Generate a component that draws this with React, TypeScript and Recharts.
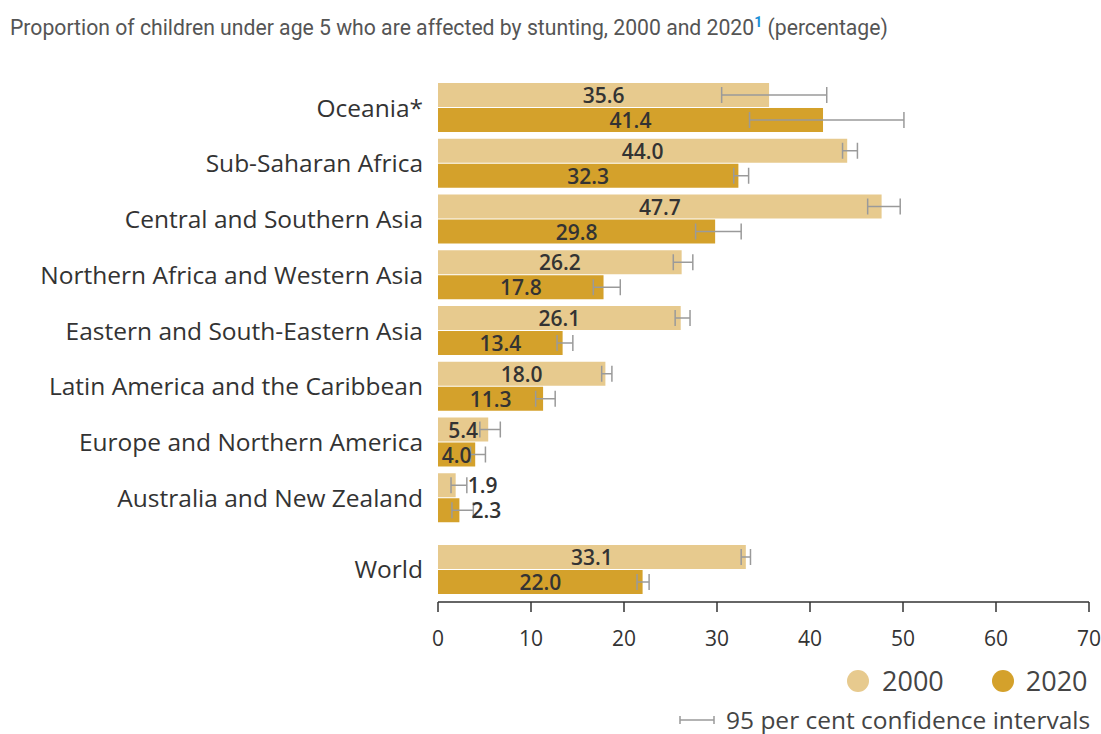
import React from 'react';
import { BarChart, Bar, XAxis, YAxis, ErrorBar, LabelList } from 'recharts';

const REGIONS = [
  'Oceania*',
  'Sub-Saharan Africa',
  'Central and Southern Asia',
  'Northern Africa and Western Asia',
  'Eastern and South-Eastern Asia',
  'Latin America and the Caribbean',
  'Europe and Northern America',
  'Australia and New Zealand',
];
const V2000 = [35.6, 44.0, 47.7, 26.2, 26.1, 18.0, 5.4, 1.9];
const V2020 = [41.4, 32.3, 29.8, 17.8, 13.4, 11.3, 4.0, 2.3];
// 95% confidence intervals
const LO2000 = [30.5, 43.5, 46.2, 25.3, 25.5, 17.6, 4.5, 1.4];
const HI2000 = [41.8, 45.1, 49.7, 27.4, 27.1, 18.7, 6.7, 3.1];
const LO2020 = [33.5, 31.8, 27.7, 16.7, 12.8, 10.5, 3.5, 1.5];
const HI2020 = [50.1, 33.4, 32.6, 19.6, 14.5, 12.6, 5.1, 3.8];

const WORLD = ['World'];
const W2000 = [33.1];
const W2020 = [22.0];
const WLO2000 = [32.6];
const WHI2000 = [33.6];
const WLO2020 = [21.4];
const WHI2020 = [22.7];

const X_TICKS = [0, 10, 20, 30, 40, 50, 60, 70];

const C2000 = '#e7ca8e';
const C2020 = '#d4a12b';
const CI = '#9a9a9a';
const TXT = '#333333';
const FONT = '"Open Sans", sans-serif';

function buildRows(names: string[], a: number[], b: number[], alo: number[], ahi: number[], blo: number[], bhi: number[]) {
  return names.map((name, i) => ({
    name,
    y2000: a[i],
    y2020: b[i],
    e2000: [a[i] - alo[i], ahi[i] - a[i]],
    e2020: [b[i] - blo[i], bhi[i] - b[i]],
  }));
}

const regionRows = buildRows(REGIONS, V2000, V2020, LO2000, HI2000, LO2020, HI2020);
const worldRows = buildRows(WORLD, W2000, W2020, WLO2000, WHI2000, WLO2020, WHI2020);

function ValueLabel(props: any) {
  const { x, y, width, height, value } = props;
  const small = width < 30;
  return (
    <text
      x={small ? x + width + 12 : x + width / 2}
      y={y + height / 2}
      textAnchor={small ? 'start' : 'middle'}
      dominantBaseline="central"
      fill={TXT}
      fontSize={21}
      fontWeight={600}
      fontFamily={FONT}
    >
      {Number(value).toFixed(1)}
    </text>
  );
}

const yTick = { fill: TXT, fontSize: 24.5, fontFamily: FONT };

function Bars() {
  return [
    <Bar key="a" dataKey="y2000" fill={C2000} isAnimationActive={false}>
      <ErrorBar dataKey="e2000" direction="x" width={8} stroke={CI} strokeWidth={1.5} />
      <LabelList dataKey="y2000" content={ValueLabel} />
    </Bar>,
    <Bar key="b" dataKey="y2020" fill={C2020} isAnimationActive={false}>
      <ErrorBar dataKey="e2020" direction="x" width={8} stroke={CI} strokeWidth={1.5} />
      <LabelList dataKey="y2020" content={ValueLabel} />
    </Bar>,
  ];
}

export default function App() {
  return (
    <div style={{ position: 'absolute', left: 0, top: 0, width: 1101, height: 734, background: '#fff', fontFamily: FONT }}>
      <div style={{ position: 'absolute', left: 10, top: 14, fontFamily: 'Roboto, sans-serif', fontSize: 21.2, color: '#555', whiteSpace: 'nowrap' }}>
        Proportion of children under age 5 who are affected by stunting, 2000 and 2020
        <sup style={{ color: '#1b8fd6', fontWeight: 700, fontSize: 14 }}>1</sup> (percentage)
      </div>

      <div style={{ position: 'absolute', left: 0, top: 0 }}>
        <BarChart
          width={1101}
          height={526}
          data={regionRows}
          layout="vertical"
          margin={{ top: 80, right: 12, bottom: 0, left: 0 }}
          barCategoryGap={3}
          barGap={1}
        >
          <XAxis type="number" domain={[0, 70]} hide allowDataOverflow />
          <YAxis type="category" dataKey="name" width={438} tickLine={false} axisLine={false} tick={yTick} tickMargin={9} interval={0} />
          {Bars()}
        </BarChart>
      </div>

      <div style={{ position: 'absolute', left: 0, top: 530 }}>
        <BarChart
          width={1101}
          height={127}
          data={worldRows}
          layout="vertical"
          margin={{ top: 12, right: 12, bottom: 0, left: 0 }}
          barCategoryGap={3}
          barGap={1}
        >
          <XAxis
            type="number"
            domain={[0, 70]}
            ticks={X_TICKS}
            allowDataOverflow
            tickSize={10}
            tickMargin={19}
            height={55}
            axisLine={{ stroke: TXT, strokeWidth: 1.5 }}
            tickLine={{ stroke: TXT, strokeWidth: 1.5 }}
            tick={{ fill: TXT, fontSize: 21, fontFamily: FONT }}
          />
          <YAxis type="category" dataKey="name" width={438} tickLine={false} axisLine={false} tick={yTick} tickMargin={9} padding={{ top: 0, bottom: 5 }} />
          {Bars()}
        </BarChart>
      </div>

      <div style={{ position: 'absolute', left: 847, top: 666, height: 30, lineHeight: '30px', display: 'flex', alignItems: 'center', fontSize: 27, color: '#444' }}>
        <span style={{ width: 22, height: 22, borderRadius: '50%', background: C2000, display: 'inline-block', marginRight: 13 }} />
        <span>2000</span>
        <span style={{ width: 22, height: 22, borderRadius: '50%', background: C2020, display: 'inline-block', marginLeft: 48, marginRight: 12 }} />
        <span>2020</span>
      </div>
      <div style={{ position: 'absolute', left: 678, top: 707, height: 26, lineHeight: '26px', display: 'flex', alignItems: 'center', fontSize: 24.5, color: '#444' }}>
        <svg width={38} height={12} style={{ marginRight: 10 }}>
          <line x1={2} y1={6} x2={36} y2={6} stroke={CI} strokeWidth={1.5} />
          <line x1={2} y1={2} x2={2} y2={10} stroke={CI} strokeWidth={1.5} />
          <line x1={36} y1={2} x2={36} y2={10} stroke={CI} strokeWidth={1.5} />
        </svg>
        <span>95 per cent confidence intervals</span>
      </div>
    </div>
  );
}
